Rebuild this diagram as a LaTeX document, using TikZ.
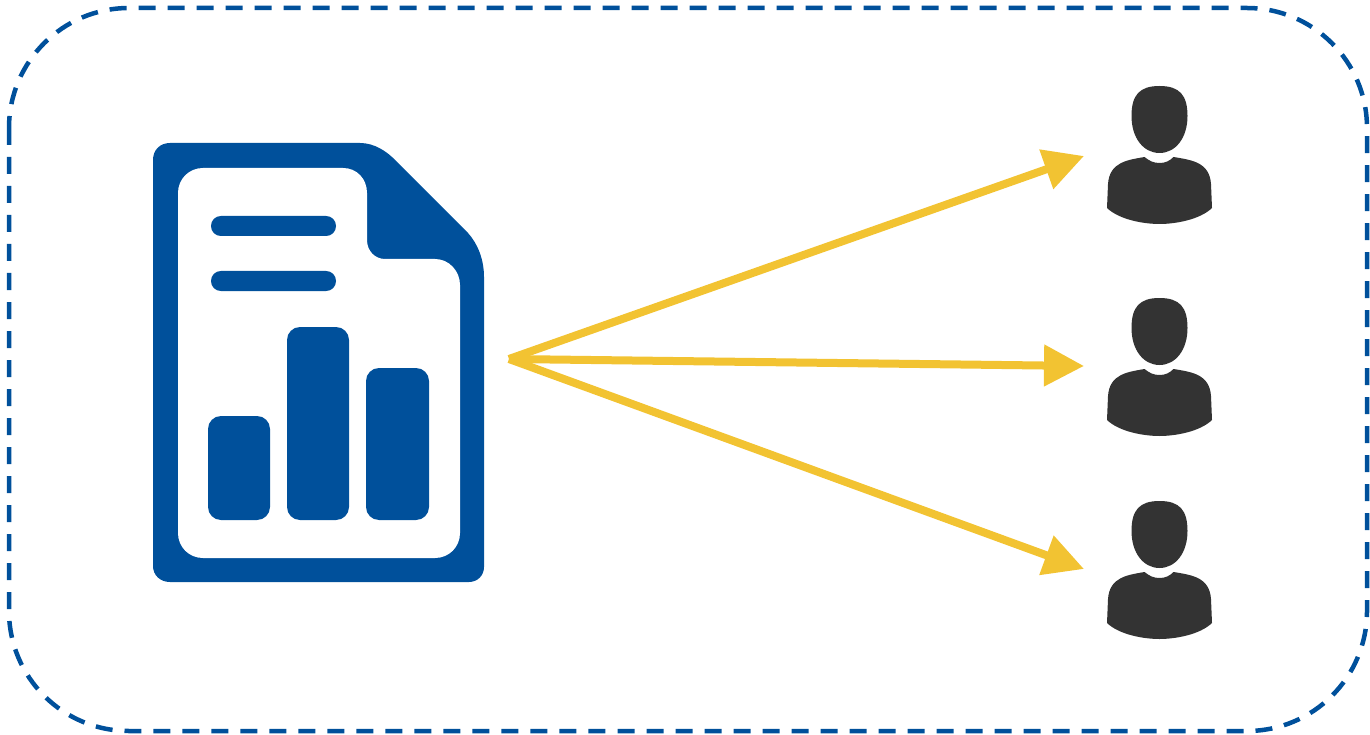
\documentclass[tikz,border=0pt]{standalone}
\usepackage{tikz}
\usetikzlibrary{arrows.meta}
\definecolor{DocBlue}{RGB}{0,80,155}
\definecolor{FanYellow}{RGB}{242,195,50}
\definecolor{UserGray}{RGB}{51,51,51}
\tikzset{
  frame/.style={draw=DocBlue,line width=4.5pt,dash pattern=on 17pt off 12pt,rounded corners=120pt},
  bar/.style={fill=DocBlue,rounded corners=13pt},
  textline/.style={fill=DocBlue,rounded corners=9.9pt},
  fan/.style={draw=FanYellow,line width=8pt,-{Triangle[length=40pt,width=40pt,fill=FanYellow]}},
  person/.pic={
    \fill[UserGray] (0,0) .. controls (20,0) and (28,9) .. (28,30)
      .. controls (28,52) and (16,67) .. (0,67)
      .. controls (-16,67) and (-28,52) .. (-28,30)
      .. controls (-28,9) and (-20,0) .. (0,0) -- cycle;
    \fill[UserGray] (-15,71) .. controls (-10,75) and (-6,77) .. (0,77)
      .. controls (6,77) and (10,75) .. (14,71)
      .. controls (32,74) and (50,76) .. (51.5,98)
      -- (52.5,122) .. controls (40,134) and (15,138) .. (0,138)
      .. controls (-15,138) and (-40,134) .. (-52.5,122)
      -- (-51.5,98) .. controls (-50,76) and (-32,74) .. (-15,71) -- cycle;
  },
}

\begin{document}
\begin{tikzpicture}[x=1pt,y=-1pt]
\useasboundingbox (0,0) rectangle (1370,735);
\draw[frame] (9,8) rectangle (1367,731);
% document
\fill[DocBlue] (170,143) -- (360,143) .. controls (374,143) and (387,151) .. (397,162)
  -- (468,233) .. controls (478,244) and (484,260) .. (484,277)
  -- (484,567) .. controls (484,576) and (477,582) .. (469,582)
  -- (170,582) .. controls (160,582) and (153,575) .. (153,566)
  -- (153,160) .. controls (153,150) and (160,143) .. (170,143) -- cycle;
\fill[white] (203,168) -- (343,168) .. controls (357,168) and (367,179) .. (367,193)
  -- (367,240) .. controls (367,251) and (375,259) .. (385,259)
  -- (435,259) .. controls (449,259) and (460,271) .. (460,285)
  -- (460,533) .. controls (460,547) and (449,558) .. (435,558)
  -- (203,558) .. controls (189,558) and (178,547) .. (178,533)
  -- (178,193) .. controls (178,179) and (189,168) .. (203,168) -- cycle;
\fill[textline] (211,216) rectangle (336,236);
\fill[textline] (211,271) rectangle (336,291);
\fill[bar] (208,416) rectangle (270,520);
\fill[bar] (287,327) rectangle (349,520);
\fill[bar] (366,368) rectangle (429,520);
% users
\pic at (1159.5,86) {person};
\pic at (1159.5,298) {person};
\pic at (1159.5,501) {person};
% arrows
\coordinate (doc) at (509,359);
\coordinate (user1) at (1084,156);
\coordinate (user2) at (1084,366);
\coordinate (user3) at (1084,569);
\draw[fan] (doc) -- (user1);
\draw[fan] (doc) -- (user2);
\draw[fan] (doc) -- (user3);
\end{tikzpicture}
\end{document}
